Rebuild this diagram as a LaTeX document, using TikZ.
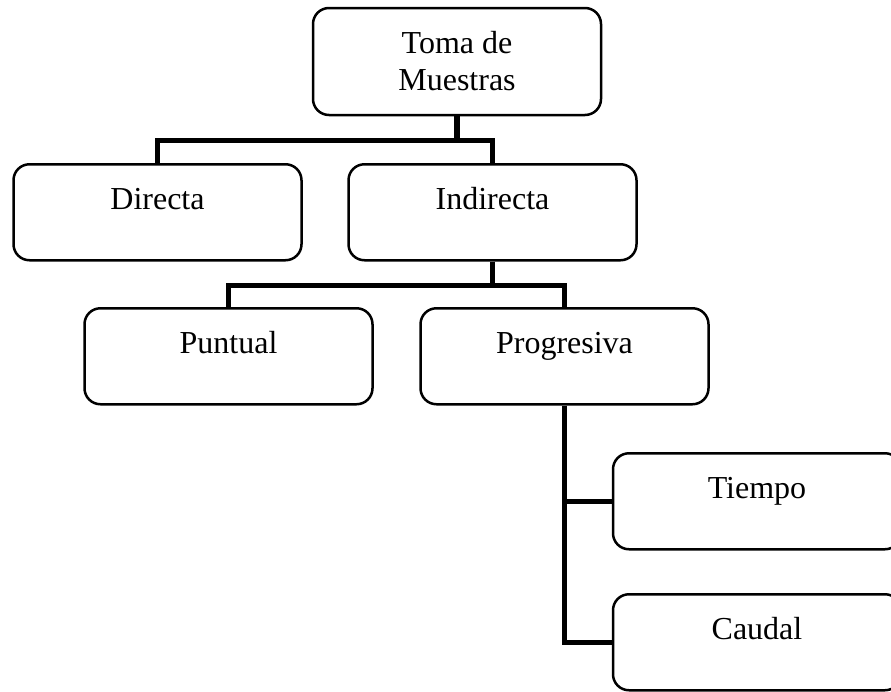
\documentclass[tikz,border=0pt]{standalone}
\usepackage{fontspec}
\setmainfont{Liberation Serif}
\usepackage{tikz}
\usetikzlibrary{positioning}

\begin{document}
\begin{tikzpicture}[
  x=1pt, y=-1pt,
  box/.style={draw=black, line width=2.5pt, rounded corners=16pt, fill=white,
    minimum width=288pt, inner xsep=0pt, inner ysep=0pt,
    font=\fontsize{32}{37}\selectfont},
  onel/.style={box, text height=45pt, text depth=51pt, anchor=north},
  link/.style={line width=5.5pt, black}
]
\useasboundingbox (0,0) rectangle (891,691);

\node[box, minimum height=107pt, align=center] (toma) at (457,61.5) {Toma de\\Muestras};
\node[onel] (directa)    at (157.5,163) {Directa};
\node[onel] (indirecta)  at (492.5,163) {Indirecta};
\node[onel] (puntual)    at (228.5,307) {Puntual};
\node[onel] (progresiva) at (564.5,307) {Progresiva};
\node[onel] (tiempo)     at (757,452)   {Tiempo};
\node[onel] (caudal)     at (757,593)   {Caudal};

% tree connectors
\draw[link] (toma.south) -- ++(0,24) -| (directa.north);
\draw[link] (toma.south) -- ++(0,24) -| (indirecta.north);
\draw[link] (indirecta.south) -- ++(0,24) -| (puntual.north);
\draw[link] (indirecta.south) -- ++(0,24) -| (progresiva.north);
\draw[link] (progresiva.south) |- (tiempo.west);
\draw[link] (progresiva.south) |- (caudal.west);
\end{tikzpicture}
\end{document}
